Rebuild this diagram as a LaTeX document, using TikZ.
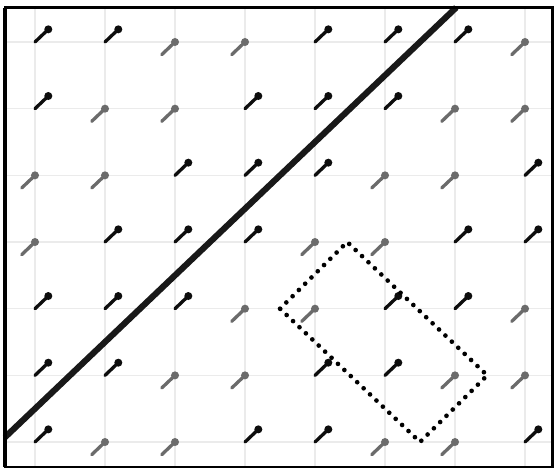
\documentclass[tikz,border=0pt]{standalone}
\usepackage{tikz}
\tikzset{spin/.style={line width=1.35pt,line cap=round},
	spinup/.style={spin,black!95},
	spindown/.style={spin,black!58},
	gridline/.style={black!8,line width=0.6pt}}
\def\dd{0.19}
\def\hd{circle[radius=0.9pt]}

\begin{document}
\begin{tikzpicture}[x=1cm,y=0.9524cm]
	\useasboundingbox (-0.5,-0.42) rectangle (7.414,6.63);
	% light lattice
	\foreach \i in {0,...,7} \draw[gridline] (\i,-0.375) -- (\i,6.517);
	\foreach \j in {0,...,6} \draw[gridline] (-0.43,\j) -- (7.393,\j);
	% spins, row by row from the bottom (1 = up, 0 = down)
	\foreach \j/\pat in {0/{1,0,0,1,1,0,0,1},1/{1,1,0,0,1,1,0,0},2/{1,1,1,0,0,1,1,0},
		3/{0,1,1,1,0,0,1,1},4/{0,0,1,1,1,0,0,1},5/{1,0,0,1,1,1,0,0},6/{1,1,0,0,1,1,1,0}}{
		\foreach \b [count=\i from 0] in \pat {
			\ifnum\b=1
				\filldraw[spinup] (\i,\j) -- ++(\dd,\dd) \hd;
			\else
				\filldraw[spindown] (\i-\dd,\j-\dd) -- (\i,\j) \hd;
			\fi
		}
	}
	% domain wall
	\draw[line width=2.5pt,black!90] (-0.43,0.07) -- (6.017,6.517);
	% dotted box
	\draw[line width=1.9pt,line cap=round,dash pattern=on 0pt off 3.6pt]
		(3.5,2) -- (4.46,3) -- (6.46,1) -- (5.5,0) -- cycle;
	% frame
	\draw[line width=0.9pt] (-0.43,-0.375) rectangle (7.393,6.517);
	\draw[line width=1.6pt] (-0.43,-0.375) -- (-0.43,6.517);
	\draw[line width=1.3pt] (-0.43,6.517) -- (7.393,6.517);
\end{tikzpicture}
\end{document}
